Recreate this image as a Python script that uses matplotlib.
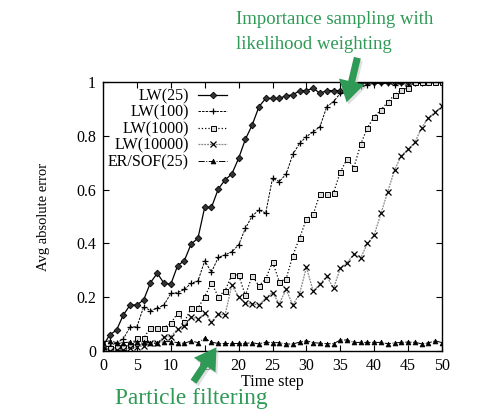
import matplotlib
matplotlib.use("Agg")
import matplotlib.pyplot as plt
import numpy as np

plt.rcParams['font.family'] = ['Liberation Serif', 'DejaVu Serif']

t = list(range(51))

lw25 = [0.02, 0.06, 0.078, 0.134, 0.171, 0.171, 0.19, 0.254, 0.289, 0.252,
        0.248, 0.317, 0.336, 0.398, 0.419, 0.534, 0.534, 0.602, 0.636, 0.658,
        0.716, 0.787, 0.84, 0.908, 0.939, 0.939, 0.939, 0.949, 0.952, 0.968,
        0.968, 0.977, 0.958, 0.968, 0.968, 0.968, 0.968, 0.985, 1.0, 1.0,
        1.0, 1.0, 1.0, 1.0, 1.0, 1.0, 1.0, 1.0, 1.0, 1.0, 1.0]

lw100 = [0.01, 0.02, 0.03, 0.045, 0.09, 0.09, 0.165, 0.15, 0.159, 0.171,
         0.214, 0.217, 0.229, 0.252, 0.26, 0.335, 0.293, 0.348, 0.357, 0.369,
         0.394, 0.456, 0.502, 0.524, 0.513, 0.642, 0.63, 0.657, 0.731, 0.772,
         0.797, 0.815, 0.834, 0.908, 0.927, 0.958, 0.962, 0.979, 0.985, 0.99,
         0.995, 0.995, 0.995, 0.99, 0.995, 0.985, 0.995, 0.995, 1.0, 1.0, 1.0]

lw1000 = [0.0, 0.012, 0.015, 0.015, 0.022, 0.047, 0.047, 0.087, 0.087, 0.087,
          0.103, 0.14, 0.108, 0.159, 0.159, 0.202, 0.253, 0.202, 0.224, 0.283,
          0.283, 0.207, 0.28, 0.242, 0.268, 0.332, 0.258, 0.267, 0.355, 0.421,
          0.49, 0.508, 0.584, 0.584, 0.588, 0.665, 0.714, 0.682, 0.768, 0.83,
          0.871, 0.896, 0.925, 0.952, 0.97, 0.979, 0.999, 1.0, 1.0, 1.0, 1.0]

lw10000 = [0.0, 0.0, 0.005, 0.005, 0.01, 0.015, 0.02, 0.029, 0.029, 0.053,
           0.053, 0.082, 0.093, 0.128, 0.119, 0.14, 0.109, 0.137, 0.134, 0.245,
           0.202, 0.177, 0.175, 0.171, 0.197, 0.217, 0.176, 0.229, 0.171, 0.213,
           0.311, 0.223, 0.248, 0.278, 0.233, 0.307, 0.328, 0.361, 0.345, 0.4,
           0.431, 0.512, 0.592, 0.673, 0.726, 0.751, 0.776, 0.83, 0.868, 0.888, 0.91]

ersof25 = [0.033, 0.038, 0.031, 0.031, 0.033, 0.033, 0.033, 0.031, 0.028, 0.035,
           0.035, 0.031, 0.028, 0.038, 0.031, 0.047, 0.033, 0.028, 0.028, 0.028,
           0.028, 0.028, 0.031, 0.026, 0.033, 0.031, 0.031, 0.026, 0.026, 0.033,
           0.038, 0.031, 0.029, 0.027, 0.027, 0.041, 0.041, 0.032, 0.032, 0.032,
           0.032, 0.032, 0.027, 0.03, 0.032, 0.033, 0.032, 0.027, 0.03, 0.038, 0.031]

xticks = list(range(0, 51, 5))
yticks = [0, 0.2, 0.4, 0.6, 0.8, 1]
yticklabels = ["0", "0.2", "0.4", "0.6", "0.8", "1"]

fig = plt.figure(figsize=(4.92, 4.11), dpi=100)
ax = fig.add_axes([103/492, 1-351/411, 339/492, 269/411])

ax.plot(t, lw25, '-', color='black', lw=0.9, marker='D', ms=3.4,
        mfc='#333333', mec='black', mew=0.6, label='LW(25)')
ax.plot(t, lw100, '--', color='black', lw=0.7, dashes=(2.5, 1.2), marker='+', ms=4.5,
        mew=0.9, label='LW(100)')
ax.plot(t, lw1000, ':', color='black', lw=0.9, marker='s', ms=3.6,
        mfc='#dddddd', mec='black', mew=0.7, label='LW(1000)')
ax.plot(t, lw10000, ':', color='#888888', lw=0.9, dashes=(1.5, 0.8), marker='x', ms=4,
        mec='black', mew=0.9, label='LW(10000)')
ax.plot(t, ersof25, '-.', color='black', lw=0.7, marker='^', ms=3.5,
        mfc='black', mec='black', mew=0.5, label='ER/SOF(25)')

ax.set_xlim(0, 50)
ax.set_ylim(0, 1)
ax.set_xticks(xticks)
ax.set_yticks(yticks)
ax.set_yticklabels(yticklabels)
ax.tick_params(direction='in', top=True, right=True, length=4, width=0.8,
               labelsize=11.5, pad=5)
for s in ax.spines.values():
    s.set_linewidth(1.0)

ax.set_xlabel('Time step', fontsize=11.5, labelpad=0)
ax.set_ylabel('Avg absolute error', fontsize=10.5, labelpad=19)

leg = ax.legend(loc='upper right', bbox_to_anchor=(0.385, 1.0), frameon=False,
                markerfirst=False, fontsize=11.5, handlelength=1.8,
                labelspacing=0.03, handletextpad=0.6, borderaxespad=0)

green = '#2e9a55'
fig.text(236/492, 1-32/411, 'Importance sampling with\nlikelihood weighting',
         color=green, fontsize=13.5, ha='left', va='center', linespacing=1.6)
fig.text(115/492, 1-398/411, 'Particle filtering', color=green, fontsize=16.8,
         ha='left', va='center')

# arrows (with soft shadow)
style = 'simple,head_length=0.9,head_width=1.1,tail_width=0.3'
for (xy, xytext) in [((346/492, 1-105/411), (358/492, 1-55/411)),
                     ((218/492, 1-345/411), (192/492, 1-384/411))]:
    fig.add_artist(matplotlib.patches.FancyArrowPatch(
        (xytext[0]+0.004, xytext[1]-0.006), (xy[0]+0.004, xy[1]-0.006),
        transform=fig.transFigure, arrowstyle=style,
        mutation_scale=17, color='#cccccc', alpha=0.6, lw=0))
    fig.add_artist(matplotlib.patches.FancyArrowPatch(
        xytext, xy, transform=fig.transFigure, arrowstyle=style,
        mutation_scale=17, color=green, lw=0))

fig.savefig('out.png', dpi=100)
